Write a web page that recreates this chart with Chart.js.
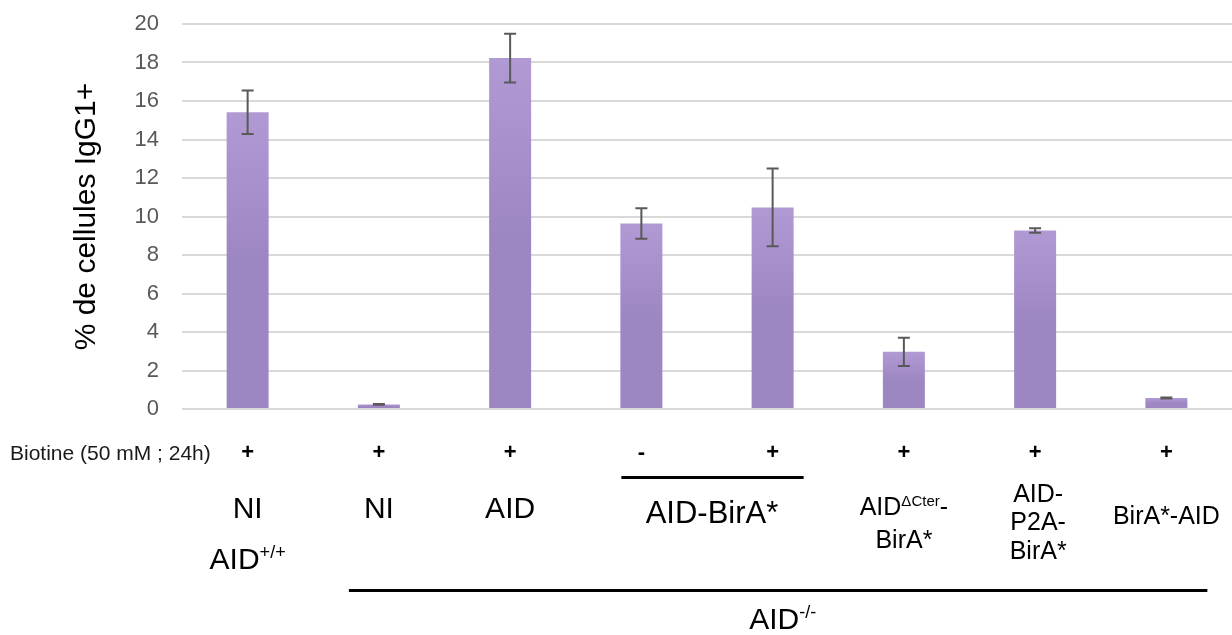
<!DOCTYPE html>
<html>
<head>
<meta charset="utf-8">
<script src="https://cdn.jsdelivr.net/npm/chart.js@4"></script>
<style>
  body { margin: 0; background: #fff; }
  #wrap { width: 1232px; height: 635px; }
</style>
</head>
<body>
<div id="wrap"><canvas id="chart" width="1232" height="635"></canvas></div>
<script>
// categories (one per bar)
const categories = ['NI AID+/+', 'NI', 'AID', 'AID-BirA* -', 'AID-BirA* +', 'AIDΔCter-BirA*', 'AID-P2A-BirA*', 'BirA*-AID'];
// % de cellules IgG1+
const values = [15.42, 0.24, 18.23, 9.64, 10.47, 2.97, 9.27, 0.57];
const errors = [1.13, 0.02, 1.27, 0.79, 2.02, 0.73, 0.12, 0.03];
// biotine row
const biotine = ['+', '+', '+', '-', '+', '+', '+', '+'];
const yTicks = [0, 2, 4, 6, 8, 10, 12, 14, 16, 18, 20];

const FONT = "'Liberation Sans', Arial, sans-serif";

// draws text parts (some as superscript), centered on cx, caps centered on cy
function drawRich(ctx, parts, cx, cy, size, align) {
    let total = 0;
    const widths = parts.map(p => {
        ctx.font = (p.sup ? size * 0.6 : size) + 'px ' + FONT;
        const w = ctx.measureText(p.t).width;
        total += w;
        return w;
    });
    let x = align === 'left' ? cx : cx - total / 2;
    const base = cy + size * 0.358;
    parts.forEach((p, i) => {
        ctx.font = (p.sup ? size * 0.6 : size) + 'px ' + FONT;
        ctx.fillText(p.t, x, p.sup ? base - size * 0.36 : base);
        x += widths[i];
    });
}

const annotations = {
    id: 'annotations',
    afterDraw(chart) {
        const ctx = chart.ctx;
        const xs = chart.scales.x;
        const cx = i => xs.getPixelForValue(i);
        ctx.save();
        ctx.fillStyle = '#1a1a1a';
        ctx.textAlign = 'left';
        ctx.textBaseline = 'alphabetic';

        drawRich(ctx, [{t: 'Biotine (50 mM ; 24h)'}], 10, 452, 21, 'left');

        ctx.fillStyle = '#000';
        ctx.font = 'bold 22px ' + FONT;
        ctx.textAlign = 'center';
        biotine.forEach((s, i) => {
            ctx.fillText(s, cx(i), 452 + 22 * 0.33);
        });
        ctx.textAlign = 'left';

        // group lines
        ctx.strokeStyle = '#000';
        ctx.lineWidth = 3;
        ctx.beginPath();
        ctx.moveTo(cx(3) - 20, 477.5);
        ctx.lineTo(cx(4) + 31, 477.5);
        ctx.moveTo(cx(1) - 30, 590.5);
        ctx.lineTo(cx(7) + 41, 590.5);
        ctx.stroke();

        drawRich(ctx, [{t: 'NI'}], cx(0), 507, 30);
        drawRich(ctx, [{t: 'AID'}, {t: '+/+', sup: true}], cx(0), 558, 30);
        drawRich(ctx, [{t: 'NI'}], cx(1), 507, 30);
        drawRich(ctx, [{t: 'AID'}], cx(2), 507, 30);
        drawRich(ctx, [{t: 'AID-BirA*'}], (cx(3) + cx(4)) / 2 + 5, 512, 31);
        drawRich(ctx, [{t: 'AID'}, {t: 'ΔCter', sup: true}, {t: '-'}], cx(5), 506, 25);
        drawRich(ctx, [{t: 'BirA*'}], cx(5), 539, 25);
        drawRich(ctx, [{t: 'AID-'}], cx(6) + 3, 493, 25);
        drawRich(ctx, [{t: 'P2A-'}], cx(6) + 3, 521.5, 25);
        drawRich(ctx, [{t: 'BirA*'}], cx(6) + 3, 550, 25);
        drawRich(ctx, [{t: 'BirA*-AID'}], cx(7), 515, 25);
        drawRich(ctx, [{t: 'AID'}, {t: '-/-', sup: true}], (cx(1) + cx(7)) / 2 + 10, 618, 30);
        ctx.restore();
    }
};

const errorBars = {
    id: 'errorBars',
    afterDatasetsDraw(chart) {
        const ctx = chart.ctx;
        const ys = chart.scales.y;
        const meta = chart.getDatasetMeta(0);
        ctx.save();
        ctx.strokeStyle = '#595959';
        ctx.lineWidth = 2;
        meta.data.forEach((bar, i) => {
            const top = ys.getPixelForValue(values[i] + errors[i]);
            const bottom = ys.getPixelForValue(values[i] - errors[i]);
            ctx.beginPath();
            ctx.moveTo(bar.x, top);
            ctx.lineTo(bar.x, bottom);
            ctx.moveTo(bar.x - 6, top);
            ctx.lineTo(bar.x + 6, top);
            ctx.moveTo(bar.x - 6, bottom);
            ctx.lineTo(bar.x + 6, bottom);
            ctx.stroke();
        });
        ctx.restore();
    }
};

function barGradient(c) {
    const chart = c.chart;
    if (!chart.chartArea || c.type !== 'data') return '#9d87c3';
    const ys = chart.scales.y;
    const top = ys.getPixelForValue(c.raw);
    const base = ys.getPixelForValue(0);
    const g = chart.ctx.createLinearGradient(0, top, 0, base);
    g.addColorStop(0, '#b199d4');
    g.addColorStop(0.5, '#9d87c3');
    g.addColorStop(1, '#9d87c3');
    return g;
}

new Chart(document.getElementById('chart'), {
    type: 'bar',
    data: {
        labels: categories,
        datasets: [{
            data: values,
            backgroundColor: barGradient,
            categoryPercentage: 1,
            barPercentage: 0.32
        }]
    },
    options: {
        responsive: false,
        animation: false,
        devicePixelRatio: 1,
        layout: { padding: { top: 24, bottom: 218, left: 0, right: 0 } },
        plugins: { legend: { display: false }, tooltip: { enabled: false } },
        scales: {
            x: {
                ticks: { display: false },
                grid: { display: false },
                border: { display: false }
            },
            y: {
                min: 0,
                max: 20,
                afterBuildTicks: s => { s.ticks = yTicks.map(v => ({ value: v })); },
                afterFit: s => {
                    s.width = 182;
                    s.paddingTop = 0;
                    s.paddingBottom = 0;
                },
                ticks: {
                    padding: 23,
                    color: '#595959',
                    font: { family: FONT, size: 22 }
                },
                grid: { color: '#d9d9d9', lineWidth: 2, drawTicks: false },
                border: { display: false },
                title: {
                    display: true,
                    text: '% de cellules IgG1+',
                    color: '#000',
                    font: { family: FONT, size: 30 },
                    padding: { top: 69, bottom: 0 }
                }
            }
        }
    },
    plugins: [errorBars, annotations]
});
</script>
</body>
</html>
